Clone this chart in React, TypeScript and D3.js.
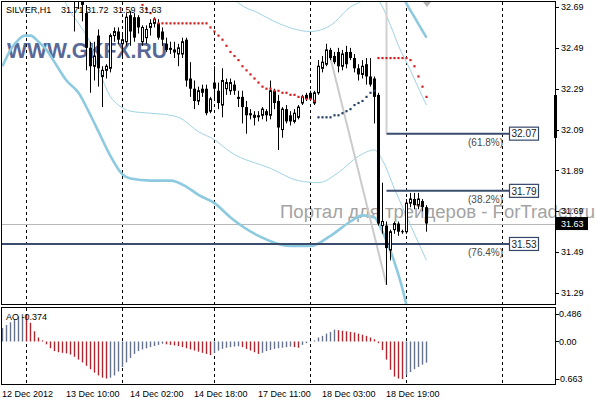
import React from 'react';
import * as d3 from 'd3';

// ---------------- data ----------------
const symbolName = 'SILVER,H1';
const firstCandleBar = 18;
const opens = [
  32.78, 32.72, 32.76, 32.66, 32.49, 32.40, 32.55, 32.35, 32.38, 32.39,
  32.55, 32.57, 32.51, 32.52, 32.65, 32.64, 32.64, 32.52, 32.54, 32.59,
  32.61, 32.61, 32.57, 32.51, 32.49, 32.47, 32.46, 32.46, 32.53, 32.34,
  32.29, 32.23, 32.29, 32.29, 32.18, 32.32, 32.28, 32.21, 32.29, 32.28,
  32.31, 32.25, 32.25, 32.20, 32.17, 32.15, 32.16, 32.16, 32.18, 32.16,
  32.28, 32.23, 32.09, 32.19, 32.16, 32.13, 32.15, 32.22, 32.26, 32.27,
  32.22, 32.27, 32.39, 32.41, 32.48, 32.45, 32.47, 32.40, 32.47, 32.47,
  32.44, 32.39, 32.36, 32.41, 32.35, 32.34, 32.26, 31.62, 31.62, 31.50,
  31.60, 31.63, 31.59, 31.59, 31.73, 31.75, 31.72, 31.74, 31.71,
];
const highs = [
  32.85, 32.80, 32.80, 32.70, 32.52, 32.52, 32.58, 32.40, 32.41, 32.56,
  32.59, 32.59, 32.56, 32.66, 32.67, 32.66, 32.65, 32.60, 32.60, 32.63,
  32.64, 32.63, 32.59, 32.54, 32.52, 32.52, 32.51, 32.54, 32.54, 32.42,
  32.33, 32.30, 32.31, 32.31, 32.25, 32.40, 32.32, 32.39, 32.34, 32.34,
  32.33, 32.28, 32.28, 32.23, 32.19, 32.18, 32.18, 32.20, 32.19, 32.33,
  32.29, 32.26, 32.20, 32.21, 32.18, 32.19, 32.21, 32.26, 32.27, 32.28,
  32.28, 32.43, 32.45, 32.51, 32.49, 32.47, 32.49, 32.48, 32.50, 32.49,
  32.46, 32.41, 32.43, 32.44, 32.44, 32.35, 32.27, 31.83, 31.64, 31.60,
  31.64, 31.64, 31.60, 31.75, 31.78, 31.78, 31.78, 31.75, 31.72,
];
const lows = [
  32.57, 32.68, 32.62, 32.38, 32.27, 32.33, 32.30, 32.20, 32.34, 32.37,
  32.52, 32.51, 32.45, 32.50, 32.50, 32.52, 32.56, 32.50, 32.51, 32.55,
  32.59, 32.53, 32.50, 32.47, 32.46, 32.44, 32.40, 32.44, 32.30, 32.25,
  32.19, 32.21, 32.25, 32.16, 32.17, 32.23, 32.19, 32.15, 32.26, 32.26,
  32.26, 32.20, 32.12, 32.07, 32.14, 32.11, 32.13, 32.14, 32.13, 32.14,
  32.19, 31.99, 32.05, 32.12, 32.11, 32.12, 32.14, 32.21, 32.23, 32.23,
  32.21, 32.26, 32.37, 32.40, 32.43, 32.41, 32.37, 32.38, 32.39, 32.43,
  32.37, 32.33, 32.34, 32.31, 32.30, 32.12, 31.62, 31.58, 31.33, 31.45,
  31.58, 31.57, 31.58, 31.58, 31.71, 31.70, 31.70, 31.69, 31.59,
];
const closes = [
  32.72, 32.76, 32.70, 32.49, 32.40, 32.45, 32.39, 32.38, 32.40, 32.55,
  32.57, 32.53, 32.53, 32.64, 32.57, 32.54, 32.59, 32.59, 32.58, 32.61,
  32.63, 32.54, 32.53, 32.48, 32.48, 32.48, 32.49, 32.52, 32.33, 32.29,
  32.23, 32.28, 32.27, 32.17, 32.24, 32.29, 32.22, 32.33, 32.32, 32.32,
  32.28, 32.24, 32.20, 32.16, 32.16, 32.16, 32.15, 32.19, 32.16, 32.28,
  32.22, 32.10, 32.19, 32.13, 32.13, 32.17, 32.20, 32.25, 32.24, 32.24,
  32.27, 32.40, 32.42, 32.48, 32.44, 32.42, 32.40, 32.46, 32.41, 32.44,
  32.39, 32.36, 32.40, 32.35, 32.31, 32.25, 31.63, 31.64, 31.51, 31.59,
  31.63, 31.59, 31.59, 31.73, 31.75, 31.72, 31.75, 31.71, 31.63,
];

// Awesome Oscillator, bars 0..106
const aoValues = [
  0.24, 0.29, 0.34, 0.39, 0.44, 0.486, 0.46, 0.33, 0.18, 0.07,
  0.02, -0.05, -0.12, -0.17, -0.19, -0.20, -0.21, -0.23, -0.27, -0.32,
  -0.37, -0.43, -0.49, -0.55, -0.60, -0.64, -0.655, -0.64, -0.60, -0.53,
  -0.45, -0.37, -0.29, -0.22, -0.17, -0.14, -0.12, -0.10, -0.08, -0.06,
  -0.04, -0.05, -0.06, -0.07, -0.08, -0.10, -0.12, -0.14, -0.16, -0.18,
  -0.20, -0.22, -0.24, -0.20, -0.16, -0.13, -0.11, -0.10, -0.09, -0.085,
  -0.10, -0.13, -0.16, -0.19, -0.22, -0.20, -0.17, -0.15, -0.13, -0.12,
  -0.11, -0.10, -0.09, -0.10, -0.11, -0.06, -0.03, -0.01, 0.02, 0.07,
  0.10, 0.14, 0.17, 0.21, 0.20, 0.19, 0.18, 0.17, 0.16, 0.14,
  0.12, 0.10, 0.07, 0.04, -0.03, -0.15, -0.32, -0.50, -0.62, -0.655,
  -0.663, -0.60, -0.54, -0.49, -0.45, -0.41, -0.374,
];

// Parabolic SAR
const sarAbove1Start = 35;
const sarAbove1 = [
  32.70, 32.68, 32.66, 32.63,
  32.61, 32.61, 32.61, 32.61, 32.61, 32.61, 32.61, 32.61, 32.61, 32.61, 32.61, 32.61, 32.61,
  32.59, 32.57, 32.55, 32.53, 32.50, 32.47, 32.45, 32.43, 32.40, 32.38, 32.36, 32.34, 32.32,
  32.30, 32.29, 32.29, 32.28, 32.28, 32.27, 32.27, 32.26, 32.26, 32.25, 32.25, 32.24, 32.24, 32.23,
];
const sarBelowStart = 79;
const sarBelow = [32.15, 32.15, 32.15, 32.15, 32.16, 32.16, 32.17, 32.18, 32.19, 32.21, 32.22, 32.23, 32.25, 32.27, 32.28];
const sarAbove2Start = 94;
const sarAbove2 = [32.44, 32.44, 32.44, 32.44, 32.44, 32.44, 32.44, 32.44, 32.43, 32.40, 32.35, 32.30, 32.25];

// Bollinger-type bands: [bar, price]
const thickLowerBand = [
  [0, 32.40], [2, 32.48], [4, 32.53], [5.5, 32.55], [7, 32.55], [9, 32.52], [11, 32.48], [13, 32.42],
  [16, 32.33], [19, 32.27], [22, 32.16], [24, 32.08], [27, 31.96], [30, 31.87], [32, 31.85], [37, 31.84],
  [42, 31.84], [46, 31.81], [49, 31.77], [53, 31.73], [57, 31.66], [64, 31.57], [72, 31.52], [77, 31.52],
  [82, 31.57], [87, 31.64], [90, 31.67], [93, 31.66], [95, 31.59], [98, 31.44], [100, 31.31], [101, 31.23], [106, 30.96],
];
const thickUpperBand = [[97, 32.96], [100, 32.75], [103, 32.64], [106, 32.54]];
const thinLowerBand = [
  [13, 32.87], [16, 32.70], [19, 32.61], [22, 32.51], [24, 32.39], [27, 32.25], [29, 32.21], [32, 32.18],
  [37, 32.17], [42, 32.16], [44, 32.15], [49, 32.08], [53, 32.04], [57, 31.98], [67, 31.90], [74, 31.84],
  [79, 31.83], [84, 31.88], [89, 31.96], [93, 31.99], [95, 31.94], [98, 31.80], [100, 31.71], [106, 31.45],
];
const thinUpperBand = [
  [55, 32.80], [59, 32.71], [64, 32.66], [69, 32.61], [77, 32.57], [82, 32.60], [87, 32.69], [90, 32.72],
  [92, 32.74], [94, 32.72], [97, 32.60], [99, 32.50], [102, 32.38], [105, 32.25], [106, 32.21],
];

// Fibonacci object
const fibPrices = [32.07, 31.79, 31.53];
const fibPercents = ['(61.8%)', '(38.2%)', '(76.4%)'];
const fibStartBars = [96, 96, null];
const fibTrendFrom = [82, 32.44];
const fibTrendTo = [96, 31.33];
const fibVerticalBar = 96;

// axes
const priceTicks = [32.69, 32.49, 32.29, 32.09, 31.89, 31.69, 31.49, 31.29];
const aoTicks = [0.486, 0, -0.663];
const aoTickLabels = ['0.486', '0.00', '-0.663'];
const timeLabelBars = [0, 16, 32, 48, 64, 80, 96];
const timeLabels = ['12 Dec 2012', '13 Dec 10:00', '14 Dec 02:00', '14 Dec 18:00', '17 Dec 11:00', '18 Dec 03:00', '18 Dec 19:00'];
const daySeparatorBars = [6, 30, 53, 77, 101, 125];

// ---------------- chart ----------------
const FONT = "'Liberation Sans', Arial, sans-serif";

export default function App() {
  const x = d3.scaleLinear().domain([0, 106]).range([2.5, 426.5]);
  const y = d3.scaleLinear().domain([31.29, 32.69]).range([293, 7]);
  const yAO = d3.scaleLinear().domain([-0.663, 0.486]).range([379, 314]);

  const band = d3.line<number[]>().x((d) => x(d[0])).y((d) => y(d[1])).curve(d3.curveMonotoneX);

  const last = opens.length - 1;
  const lastClose = closes[last];
  const headerVals = [opens[last], highs[last], lows[last], closes[last]].map((v) => v.toFixed(2));
  const headerX = [61, 86, 113, 139];

  const candles = opens.map((o, k) => {
    const i = firstCandleBar + k;
    const cx = x(i);
    const c = closes[k];
    const top = y(Math.max(o, c));
    const bot = y(Math.min(o, c));
    const bull = c > o;
    const doji = c === o;
    return (
      <g key={'c' + i}>
        <line x1={cx} x2={cx} y1={y(highs[k])} y2={y(lows[k])} stroke="#000" strokeWidth={1} />
        {doji ? (
          <line x1={cx - 1.5} x2={cx + 1.5} y1={top} y2={top} stroke="#000" strokeWidth={1} />
        ) : bull ? (
          <rect x={cx - 1} y={top} width={2} height={Math.max(bot - top, 0.5)} fill="#fff" stroke="#000" strokeWidth={1} />
        ) : (
          <rect x={cx - 1.5} y={top} width={3} height={Math.max(bot - top, 1)} fill="#000" />
        )}
      </g>
    );
  });

  const sarDots = (start: number, vals: number[], color: string) =>
    vals.map((v, k) => (
      <rect key={color + (start + k)} x={x(start + k) - 1.1} y={y(v) - 1.1} width={2.2} height={2.2} fill={color} />
    ));

  const zeroY = yAO(0);

  return (
    <svg
      width={596}
      height={400}
      viewBox="0 0 596 400"
      style={{ position: 'absolute', left: 0, top: 0, background: '#fff' }}
      fontFamily={FONT}
    >
      <defs>
        <clipPath id="mainClip">
          <rect x={2} y={2} width={553} height={302} />
        </clipPath>
        <clipPath id="aoClip">
          <rect x={2} y={308} width={553} height={76} />
        </clipPath>
      </defs>
      <rect x={0} y={0} width={596} height={400} fill="#fff" />

      {/* watermark text */}
      <text x={280} y={218} fontSize={18} fill="#a3a3a3" textLength={315} lengthAdjust="spacingAndGlyphs">
        Портал для трейдеров - ForTrader.ru
      </text>

      <g clipPath="url(#mainClip)">
        <text x={7} y={58} fontSize={22} fontWeight="bold" fill="#48598c" opacity={0.9} textLength={160} lengthAdjust="spacingAndGlyphs">
          WWW.GKFX.RU
        </text>

        {daySeparatorBars.map((b) => (
          <line key={'sep' + b} x1={x(b)} x2={x(b)} y1={2} y2={304} stroke="#000" strokeWidth={1} strokeDasharray="3,3" />
        ))}

        <line x1={2} x2={556} y1={Math.round(y(lastClose)) + 0.5} y2={Math.round(y(lastClose)) + 0.5} stroke="#b8b8b8" strokeWidth={1} />

        <path d={band(thickLowerBand) || ''} fill="none" stroke="#8ecadf" strokeWidth={2.6} />
        <path d={band(thickUpperBand) || ''} fill="none" stroke="#8ecadf" strokeWidth={2.6} />
        <path d={band(thinLowerBand) || ''} fill="none" stroke="#9fd2e4" strokeWidth={1} />
        <path d={band(thinUpperBand) || ''} fill="none" stroke="#9fd2e4" strokeWidth={1} />

        <line x1={x(fibVerticalBar)} x2={x(fibVerticalBar)} y1={2} y2={y(fibPrices[0])} stroke="#d0d0d0" strokeWidth={2} />
        <line x1={x(fibTrendFrom[0])} y1={y(fibTrendFrom[1])} x2={x(fibTrendTo[0])} y2={y(fibTrendTo[1])} stroke="#cbcbcb" strokeWidth={2} />

        {fibPrices.map((p, k) => (
          <line
            key={'fib' + k}
            x1={fibStartBars[k] === null ? 2 : x(fibStartBars[k] as number)}
            x2={510}
            y1={y(p)}
            y2={y(p)}
            stroke="#3a4d6e"
            strokeWidth={2}
          />
        ))}

        {candles}

        {sarDots(sarAbove1Start, sarAbove1, '#cf2323')}
        {sarDots(sarBelowStart, sarBelow, '#2a4466')}
        {sarDots(sarAbove2Start, sarAbove2, '#cf2323')}

        {fibPercents.map((t, k) => (
          <text key={'fp' + k} x={503} y={y(fibPrices[k]) + 12} fontSize={10} fill="#4a4a4a" textAnchor="end">
            {t}
          </text>
        ))}

        <path d="M423,2 L431,2 L427,7 Z" fill="#b4b4b4" />
      </g>

      {/* fib price boxes */}
      {fibPrices.map((p, k) => (
        <g key={'fb' + k}>
          <rect x={509.5} y={y(p) - 6.5} width={29} height={13} fill="#fff" stroke="#34476a" strokeWidth={1.2} />
          <text x={511.5} y={y(p) + 3.8} fontSize={10} fill="#222">
            {p.toFixed(2)}
          </text>
        </g>
      ))}

      {/* frames */}
      <rect x={1.5} y={1.5} width={554} height={303} fill="none" stroke="#000" strokeWidth={1} />
      <rect x={1.5} y={307.5} width={554} height={77} fill="none" stroke="#000" strokeWidth={1} />
      <rect x={554} y={95} width={3} height={43} fill="#000" />

      {/* price axis */}
      {priceTicks.map((p) => (
        <g key={'pt' + p}>
          <line x1={556} x2={559} y1={Math.round(y(p)) + 0.5} y2={Math.round(y(p)) + 0.5} stroke="#000" />
          <text x={561} y={y(p) + 3.2} fontSize={9} fill="#000">
            {p.toFixed(2)}
          </text>
        </g>
      ))}
      <rect x={556} y={y(lastClose) - 6.5} width={32} height={13} fill="#000" />
      <text x={561} y={y(lastClose) + 3.2} fontSize={9} fill="#fff">
        {lastClose.toFixed(2)}
      </text>

      {/* header */}
      <text x={6} y={13} fontSize={9} fill="#000">
        {symbolName}
      </text>
      {headerVals.map((v, k) => (
        <text key={'hv' + k} x={headerX[k]} y={13} fontSize={9} fill="#000">
          {v}
        </text>
      ))}

      {/* AO panel */}
      <g clipPath="url(#aoClip)">
        {daySeparatorBars.map((b) => (
          <line key={'sepao' + b} x1={x(b)} x2={x(b)} y1={308} y2={384} stroke="#000" strokeWidth={1} strokeDasharray="3,3" />
        ))}
        {aoValues.map((v, i) => {
          const up = i === 0 ? true : v > aoValues[i - 1];
          return (
            <line
              key={'ao' + i}
              x1={x(i)}
              x2={x(i)}
              y1={zeroY}
              y2={yAO(v)}
              stroke={up ? '#66738f' : '#b3252d'}
              strokeWidth={1.4}
            />
          );
        })}
      </g>
      <text x={6} y={320} fontSize={9} fill="#000">
        {'AO ' + aoValues[aoValues.length - 1].toFixed(3)}
      </text>
      {aoTicks.map((t, k) => (
        <g key={'at' + k}>
          <line x1={556} x2={559} y1={Math.round(yAO(t)) + 0.5} y2={Math.round(yAO(t)) + 0.5} stroke="#000" />
          <text x={t < 0 ? 557 : 559} y={yAO(t) + 3.2} fontSize={9} fill="#000">
            {aoTickLabels[k]}
          </text>
        </g>
      ))}

      {/* time axis */}
      {timeLabelBars.map((b, k) => (
        <text key={'tl' + k} x={x(b) - 0.5} y={397} fontSize={9} fill="#000">
          {timeLabels[k]}
        </text>
      ))}
    </svg>
  );
}
